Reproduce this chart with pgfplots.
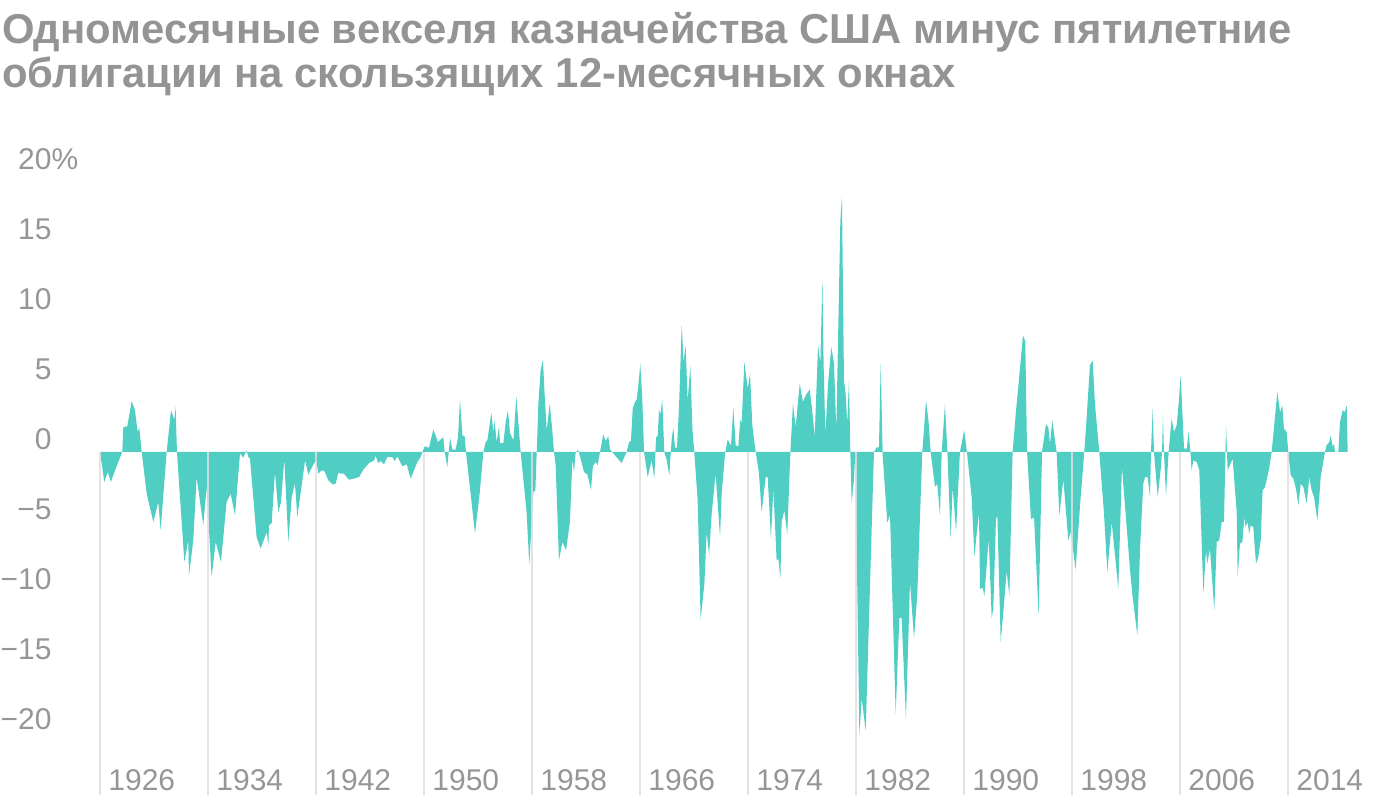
\documentclass[border=0pt]{standalone}
\usepackage{fontspec}
\setmainfont{Liberation Sans}
\usepackage{pgfplots}
\pgfplotsset{compat=1.18}
\definecolor{teal1}{RGB}{80,206,196}
\definecolor{ttl}{RGB}{148,148,148}
\definecolor{tck}{RGB}{150,150,150}
\definecolor{grd}{RGB}{222,222,222}
\begin{document}
\begin{tikzpicture}
\path[use as bounding box] (0,0) rectangle (700pt,400pt);
\node[anchor=base west, inner sep=0pt, text=ttl, font=\bfseries\fontsize{20.9pt}{22pt}\selectfont] at (1pt,378pt) {Одномесячные векселя казначейства США минус пятилетние};
\node[anchor=base west, inner sep=0pt, text=ttl, font=\bfseries\fontsize{20.9pt}{22pt}\selectfont] at (1pt,356pt) {облигации на скользящих 12-месячных окнах};
\begin{axis}[
  scale only axis, width=648pt, height=322.5pt,
  at={(50pt,2.5pt)}, anchor=south west,
  xmin=1926, xmax=2022, ymin=-24.5, ymax=21.57,
  axis line style={draw=none}, major tick length=0pt,
  clip=false,
  xtick={1926,1934,1942,1950,1958,1966,1974,1982,1990,1998,2006,2014},
  xticklabels={1926,1934,1942,1950,1958,1966,1974,1982,1990,1998,2006,2014},
  ytick={-20,-15,-10,-5,0,5,10,15,20},
  yticklabels={−20,−15,−10,−5,0,5,10,15,20\rlap{\%}},
  xticklabel style={anchor=south west, inner sep=0pt, xshift=4pt, yshift=2pt, text=tck, font=\fontsize{15pt}{15pt}\selectfont},
  yticklabel style={anchor=south east, inner sep=0pt, xshift=-24pt, yshift=1pt, text=tck, font=\fontsize{15pt}{15pt}\selectfont},
]
\addplot[fill=teal1, draw=none] table {
1926.00 0
1926.32 -2.14
1926.57 -1.43
1926.81 -2.14
1927.11 -1.31
1927.65 0
1927.73 1.79
1928.02 1.83
1928.35 3.64
1928.59 2.98
1928.79 1.43
1928.91 1.74
1929.09 0
1929.46 -2.98
1929.95 -5.0
1930.32 -3.57
1930.49 -5.6
1930.94 0
1931.26 2.98
1931.51 2.31
1931.60 3.26
1931.70 0
1932.25 -7.86
1932.54 -6.31
1932.59 -8.81
1932.91 -6.31
1933.16 -1.79
1933.65 -5.24
1933.90 -2.5
1934.27 -8.93
1934.57 -6.43
1934.96 -7.86
1935.38 -3.57
1935.68 -2.98
1936.00 -4.52
1936.37 -0.12
1936.62 -0.40
1936.86 0.12
1936.99 -0.36
1937.11 -0.48
1937.60 -6.07
1937.90 -6.90
1938.35 -5.71
1938.47 -6.67
1938.52 -5.24
1938.72 -5.07
1938.96 -1.43
1939.21 -4.29
1939.41 -3.57
1939.65 -0.48
1939.95 -6.43
1940.20 -3.21
1940.44 -2.26
1940.62 -4.64
1941.19 -0.60
1941.43 -1.60
1942.00 -0.55
1942.17 -1.55
1942.42 -1.31
1942.62 -1.36
1942.91 -2.02
1943.21 -2.31
1943.46 -2.26
1943.65 -1.50
1943.90 -1.55
1944.07 -1.55
1944.44 -1.98
1944.81 -1.90
1945.19 -1.79
1945.56 -1.19
1945.93 -0.79
1946.30 -0.60
1946.42 -0.24
1946.59 -0.79
1946.79 -0.64
1947.04 -0.88
1947.28 -0.36
1947.65 -0.36
1947.83 -0.64
1948.02 -0.31
1948.40 -1.02
1948.72 -0.88
1949.01 -1.90
1949.51 -0.71
1949.75 -0.36
1949.88 0
1950.05 0.40
1950.37 0.31
1950.69 1.60
1951.04 0.71
1951.43 1.07
1951.53 0
1951.73 -1.07
1951.93 1.02
1952.10 0.17
1952.35 0.17
1952.52 1.07
1952.67 3.74
1952.84 1.19
1953.01 1.12
1953.11 0
1953.78 -5.83
1954.12 -2.98
1954.40 0
1954.57 0.71
1954.69 0.83
1954.99 2.79
1955.14 1.43
1955.23 2.26
1955.38 0.71
1955.56 1.83
1955.63 0.64
1955.88 0.64
1956.05 2.14
1956.22 2.98
1956.37 1.36
1956.62 0.83
1956.84 3.98
1957.16 0
1957.60 -4.29
1957.80 -8.02
1958.10 -2.86
1958.25 -2.74
1958.35 0
1958.47 3.45
1958.64 5.83
1958.81 6.60
1958.94 4.05
1959.09 1.55
1959.31 3.45
1959.48 1.79
1959.63 0
1959.75 -0.88
1960.00 -7.74
1960.25 -6.43
1960.52 -7.02
1960.81 -5.00
1960.99 -0.48
1961.11 -1.43
1961.23 -0.07
1961.41 0.17
1961.60 -0.48
1961.85 -1.43
1962.10 -1.60
1962.37 -2.69
1962.51 -1.02
1962.72 -0.71
1962.86 -0.95
1963.04 0
1963.28 1.26
1963.46 0.79
1963.65 1.12
1963.78 0.17
1964.15 -0.24
1964.64 -0.79
1964.84 -0.36
1965.01 0
1965.19 0.71
1965.33 0.79
1965.46 3.10
1965.63 3.57
1965.75 3.74
1965.88 4.76
1966.02 6.31
1966.17 3.81
1966.30 0
1966.57 -1.79
1966.86 -0.60
1967.06 -1.90
1967.19 1.07
1967.31 1.12
1967.41 3.02
1967.51 2.69
1967.65 3.74
1967.80 0
1967.98 -0.60
1968.17 -1.67
1968.35 0.95
1968.47 1.74
1968.59 0.31
1968.74 0.31
1968.89 3.21
1969.09 9.05
1969.23 6.43
1969.38 7.62
1969.53 3.64
1969.73 6.19
1969.88 1.67
1970.02 0
1970.27 -3.45
1970.49 -11.98
1970.77 -9.40
1970.94 -5.71
1971.12 -7.38
1971.31 -4.40
1971.60 -1.55
1971.93 -6.07
1972.05 -2.98
1972.30 -0.12
1972.49 0.88
1972.74 0.48
1972.91 3.17
1973.09 0.48
1973.28 0.40
1973.43 2.31
1973.53 2.02
1973.73 6.43
1973.98 4.52
1974.15 5.60
1974.32 1.90
1974.57 0
1974.81 -1.50
1975.01 -4.29
1975.31 -1.79
1975.46 -1.79
1975.70 -6.19
1975.88 -2.62
1976.12 -7.74
1976.25 -7.62
1976.40 -9.05
1976.49 -5.00
1976.69 -4.17
1976.91 -5.88
1977.14 0
1977.33 3.45
1977.53 1.79
1977.83 4.88
1978.07 3.57
1978.27 4.05
1978.57 4.45
1978.81 2.50
1978.94 1.07
1979.19 7.62
1979.36 6.31
1979.51 12.38
1979.60 6.31
1979.73 1.31
1979.93 4.88
1980.17 7.50
1980.37 6.31
1980.54 1.55
1980.84 16.5
1980.96 18.2
1981.11 5.12
1981.23 4.2
1981.35 2.0
1981.48 5.12
1981.58 0
1981.68 -3.64
1981.85 -1.97
1981.95 0
1982.25 -20.2
1982.42 -17.6
1982.72 -19.9
1983.33 0
1983.53 0.33
1983.70 0.33
1983.83 6.36
1983.98 -0.3
1984.32 -5.05
1984.52 -4.5
1984.94 -18.7
1985.21 -11.85
1985.38 -11.85
1985.70 -19.1
1986.00 -9.3
1986.30 -13.3
1986.54 -10.2
1986.91 0
1987.19 3.67
1987.38 2.13
1987.53 0
1987.85 -2.49
1988.02 -2.28
1988.22 -4.54
1988.35 0
1988.59 3.41
1988.77 0
1989.01 -6.2
1989.16 -2.49
1989.41 -5.7
1989.70 0
1990.02 1.56
1990.25 -0.3
1990.57 -3.26
1990.77 -7.49
1990.94 -5.82
1991.11 -4.41
1991.19 -9.8
1991.38 -9.67
1991.51 -10.3
1991.68 -8.13
1991.83 -6.2
1992.05 -11.85
1992.17 -11.2
1992.37 -4.8
1992.47 -4.54
1992.72 -13.6
1992.96 -10.9
1993.16 -8.5
1993.36 -10.3
1993.60 0
1993.85 2.9
1994.05 4.95
1994.37 8.33
1994.54 7.9
1994.67 0
1994.96 -4.8
1995.19 -4.67
1995.53 -11.7
1995.78 0
1996.07 2.0
1996.25 1.74
1996.37 0.59
1996.54 2.26
1996.86 0
1997.06 -4.54
1997.36 -1.97
1997.73 -6.33
1997.90 -5.7
1998.27 -8.4
1998.62 -3.5
1998.91 0
1999.04 1.79
1999.33 6.19
1999.53 6.55
1999.70 3.45
2000.02 0
2000.37 -4.4
2000.62 -8.57
2000.94 -5.0
2001.43 -9.76
2001.70 -1.07
2002.30 -8.45
2002.49 -10.36
2002.84 -13.1
2003.04 -6.9
2003.28 -2.26
2003.41 -1.79
2003.60 -1.79
2003.78 -3.21
2003.85 0
2003.98 3.1
2004.07 0
2004.35 -3.21
2004.59 -1.07
2004.67 0
2004.74 2.62
2004.81 0
2004.96 -3.1
2005.16 0
2005.38 2.38
2005.56 1.43
2005.75 1.9
2005.93 3.81
2006.05 5.48
2006.17 2.98
2006.30 0.24
2006.50 0.24
2006.64 1.43
2006.77 0
2006.86 -1.31
2006.99 -0.6
2007.23 -0.71
2007.43 -1.31
2007.73 -10.1
2007.93 -7.02
2008.02 -7.98
2008.22 -6.9
2008.54 -11.3
2008.72 -6.43
2008.91 -6.31
2009.09 -5.0
2009.26 -5.0
2009.41 1.9
2009.53 -1.31
2009.90 -0.48
2010.20 -4.29
2010.27 -8.93
2010.44 -6.55
2010.62 -6.43
2010.77 -4.64
2010.86 -5.36
2010.99 -5.0
2011.14 -5.83
2011.23 -5.24
2011.43 -5.36
2011.63 -7.98
2011.80 -7.5
2011.98 -6.31
2012.12 -2.74
2012.30 -2.5
2012.47 -1.79
2012.62 -1.07
2012.79 0
2013.21 4.29
2013.41 2.86
2013.58 3.33
2013.70 1.67
2013.90 1.43
2014.02 0
2014.20 -1.67
2014.40 -1.9
2014.59 -2.62
2014.77 -3.81
2014.94 -2.26
2015.14 -2.5
2015.38 -3.69
2015.58 -1.79
2015.75 -2.74
2015.93 -3.21
2016.17 -4.88
2016.32 -3.21
2016.42 -1.79
2016.74 0
2016.86 0.48
2017.06 0.71
2017.16 1.19
2017.31 0.36
2017.41 0.6
2017.48 0
2017.73 0
2017.85 2.14
2018.05 2.98
2018.22 2.86
2018.35 3.33
2018.42 0
} -- cycle;
\pgfplotsinvokeforeach{1926,1934,1942,1950,1958,1966,1974,1982,1990,1998,2006,2014}{
  \draw[grd, line width=1pt, opacity=0.85] (axis cs:#1,0) -- (axis cs:#1,-24.5);
}
\end{axis}
\end{tikzpicture}
\end{document}
